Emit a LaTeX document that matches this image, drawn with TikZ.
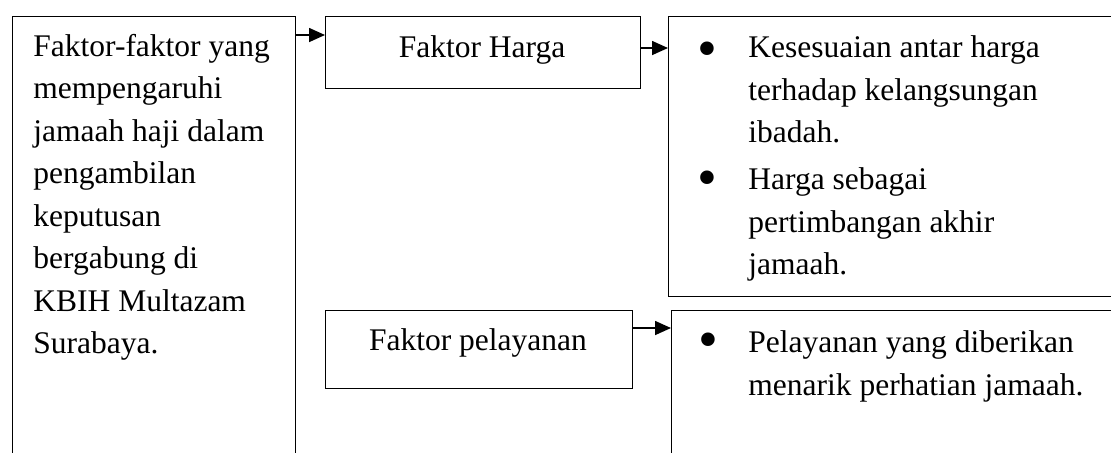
\documentclass[tikz,border=0pt]{standalone}
\usepackage{fontspec}
\setmainfont{Liberation Serif}
\usetikzlibrary{arrows.meta}

\begin{document}
\begin{tikzpicture}[x=0.5pt,y=-0.5pt,
  box/.style={draw,line width=0.7pt,inner sep=0pt,anchor=north west},
  txt/.style={inner sep=0pt,anchor=north west,align=left,
    font=\fontsize{15.75pt}{21.25pt}\selectfont},
  dot/.style={txt,anchor=center},
  arr/.style={-{Triangle[length=8pt,width=7pt]},line width=0.8pt}]
   \useasboundingbox (0,0) rectangle (1111,452);
   \clip (0,0) rectangle (1111,452);

   \node[box,minimum width=141.5pt,minimum height=260pt] (faktor) at (12,16) {};
   \node[txt] (faktortxt) at (33,33.5) {Faktor-faktor yang\\mempengaruhi\\jamaah haji dalam\\pengambilan\\keputusan\\bergabung di\\KBIH Multazam\\Surabaya.};

   \node[box,minimum width=157.5pt,minimum height=36pt] (harga) at (325,16) {};
   \node[txt,anchor=base] (hargatxt) at (482,57) {Faktor Harga};

   \node[box,minimum width=153.5pt,minimum height=39pt] (layan) at (325,310) {};
   \node[txt,anchor=base] (layantxt) at (478,350) {Faktor pelayanan};

   \node[box,minimum width=231pt,minimum height=140pt] (ket1) at (668,16) {};
   \node[dot] (dot1) at (707,55) {\scalebox{1.8}{•}};
   \node[txt] (ket1a) at (748,35.5) {Kesesuaian antar harga\\terhadap kelangsungan\\ibadah.};
   \node[dot] (dot2) at (707,184) {\scalebox{1.8}{•}};
   \node[txt] (ket1b) at (748,167.5) {Harga sebagai\\pertimbangan akhir\\jamaah.};

   \node[box,minimum width=230pt,minimum height=200pt] (ket2) at (671,310) {};
   \node[dot] (dot3) at (708,346) {\scalebox{1.8}{•}};
   \node[txt] (ket2a) at (748,330.5) {Pelayanan yang diberikan\\menarik perhatian jamaah.};

   \draw[arr] ([yshift=-9.5pt]faktor.north east) -- ([yshift=-9.5pt]harga.north west);
   \draw[arr] ([yshift=-16pt]harga.north east) -- ([yshift=-16pt]ket1.north west);
   \draw[arr] ([yshift=-9pt]layan.north east) -- ([yshift=-9pt]ket2.north west);
 \end{tikzpicture}
\end{document}
